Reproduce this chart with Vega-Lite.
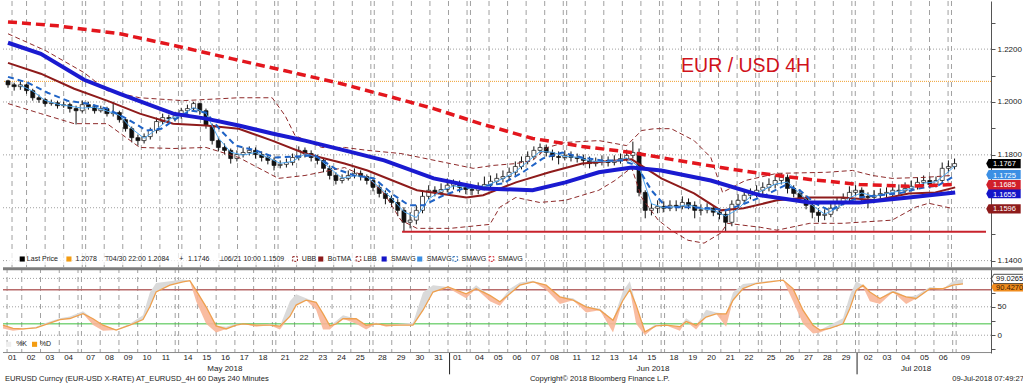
{
"$schema": "https://vega.github.io/schema/vega-lite/v6.json",
"padding": 0,
"background": "white",
"spacing": 0,
"bounds": "flush",
"config": {
 "view": {"stroke": null},
 "text": {"font": "Liberation Sans", "fontSize": 8, "color": "#1a1a1a"},
 "axis": {"labelFont": "Liberation Sans", "labelFontSize": 8, "labelColor": "#1a1a1a", "domainColor": "#555555", "tickColor": "#555555", "grid": false, "title": null}
},
"resolve": {"scale": {"y": "independent", "color": "independent"}},
"datasets": {
 "vg": [{"b":1.3},{"b":6},{"b":12},{"b":18},{"b":24},{"b":25.1},{"b":31.1},{"b":37.1},{"b":43.1},{"b":49.1},{"b":55.1},{"b":56.2},{"b":62.2},{"b":68.2},{"b":74.2},{"b":80.2},{"b":86.2},{"b":87.3},{"b":93.3},{"b":99.3},{"b":105.3},{"b":111.3},{"b":117.3},{"b":118.4},{"b":124.4},{"b":130.4},{"b":136.4},{"b":142.4},{"b":148.4},{"b":149.5},{"b":155.5},{"b":161.5},{"b":167.5},{"b":173.5},{"b":179.5},{"b":180.6},{"b":186.6},{"b":192.6},{"b":198.6},{"b":204.6},{"b":210.6},{"b":211.7},{"b":217.7},{"b":223.7},{"b":229.7},{"b":235.7},{"b":241.7},{"b":242.8},{"b":248.8},{"b":254.8},{"b":260.8},{"b":266.8},{"b":272.8},{"b":273.9},{"b":279.9},{"b":285.9},{"b":291.9},{"b":297.9},{"b":303.9},{"b":305}],
 "hg": [{"p":1.14},{"p":1.16},{"p":1.18},{"p":1.20},{"p":1.22}],
 "cd": [
{"b":0,"o":1.2080,"h":1.2084,"l":1.2054,"c":1.2065},
{"b":2,"o":1.2065,"h":1.2073,"l":1.2043,"c":1.2058},
{"b":4,"o":1.2058,"h":1.2077,"l":1.2046,"c":1.2065},
{"b":6,"o":1.2065,"h":1.2069,"l":1.2031,"c":1.2043},
{"b":8,"o":1.2043,"h":1.2050,"l":1.2005,"c":1.2016},
{"b":10,"o":1.2016,"h":1.2028,"l":1.1997,"c":1.2009},
{"b":12,"o":1.2009,"h":1.2016,"l":1.1982,"c":1.1994},
{"b":14,"o":1.1994,"h":1.2009,"l":1.1986,"c":1.1997},
{"b":16,"o":1.1997,"h":1.2005,"l":1.1975,"c":1.1986},
{"b":18,"o":1.1986,"h":1.2001,"l":1.1978,"c":1.1990},
{"b":20,"o":1.1990,"h":1.1997,"l":1.1960,"c":1.1975},
{"b":22,"o":1.1975,"h":1.1986,"l":1.1915,"c":1.1967},
{"b":24,"o":1.1967,"h":1.2005,"l":1.1960,"c":1.1990},
{"b":26,"o":1.1990,"h":1.2001,"l":1.1971,"c":1.1982},
{"b":28,"o":1.1982,"h":1.1990,"l":1.1956,"c":1.1967},
{"b":30,"o":1.1967,"h":1.1986,"l":1.1960,"c":1.1975},
{"b":32,"o":1.1975,"h":1.1982,"l":1.1945,"c":1.1956},
{"b":34,"o":1.1956,"h":1.2001,"l":1.1945,"c":1.1960},
{"b":36,"o":1.1960,"h":1.1967,"l":1.1922,"c":1.1933},
{"b":38,"o":1.1933,"h":1.1941,"l":1.1888,"c":1.1899},
{"b":40,"o":1.1899,"h":1.1907,"l":1.1847,"c":1.1865},
{"b":42,"o":1.1865,"h":1.1877,"l":1.1835,"c":1.1854},
{"b":44,"o":1.1854,"h":1.1881,"l":1.1843,"c":1.1869},
{"b":46,"o":1.1869,"h":1.1903,"l":1.1858,"c":1.1892},
{"b":48,"o":1.1892,"h":1.1941,"l":1.1881,"c":1.1926},
{"b":50,"o":1.1926,"h":1.1956,"l":1.1915,"c":1.1941},
{"b":52,"o":1.1941,"h":1.1952,"l":1.1922,"c":1.1937},
{"b":54,"o":1.1937,"h":1.1963,"l":1.1926,"c":1.1948},
{"b":56,"o":1.1948,"h":1.1978,"l":1.1937,"c":1.1967},
{"b":58,"o":1.1967,"h":1.1990,"l":1.1956,"c":1.1975},
{"b":60,"o":1.1975,"h":1.2001,"l":1.1963,"c":1.1994},
{"b":62,"o":1.1994,"h":1.1997,"l":1.1952,"c":1.1967},
{"b":64,"o":1.1967,"h":1.1975,"l":1.1899,"c":1.1911},
{"b":66,"o":1.1911,"h":1.1918,"l":1.1839,"c":1.1854},
{"b":68,"o":1.1854,"h":1.1865,"l":1.1813,"c":1.1828},
{"b":70,"o":1.1828,"h":1.1843,"l":1.1801,"c":1.1817},
{"b":72,"o":1.1817,"h":1.1824,"l":1.1767,"c":1.1786},
{"b":74,"o":1.1786,"h":1.1817,"l":1.1775,"c":1.1801},
{"b":76,"o":1.1801,"h":1.1828,"l":1.1790,"c":1.1809},
{"b":78,"o":1.1809,"h":1.1832,"l":1.1798,"c":1.1817},
{"b":80,"o":1.1817,"h":1.1828,"l":1.1786,"c":1.1801},
{"b":82,"o":1.1801,"h":1.1813,"l":1.1775,"c":1.1790},
{"b":84,"o":1.1790,"h":1.1801,"l":1.1764,"c":1.1779},
{"b":86,"o":1.1779,"h":1.1790,"l":1.1741,"c":1.1760},
{"b":88,"o":1.1760,"h":1.1779,"l":1.1749,"c":1.1764},
{"b":90,"o":1.1764,"h":1.1786,"l":1.1752,"c":1.1771},
{"b":92,"o":1.1771,"h":1.1805,"l":1.1760,"c":1.1790},
{"b":94,"o":1.1790,"h":1.1832,"l":1.1779,"c":1.1817},
{"b":96,"o":1.1817,"h":1.1828,"l":1.1790,"c":1.1805},
{"b":98,"o":1.1805,"h":1.1817,"l":1.1775,"c":1.1790},
{"b":100,"o":1.1790,"h":1.1801,"l":1.1764,"c":1.1779},
{"b":102,"o":1.1779,"h":1.1786,"l":1.1734,"c":1.1749},
{"b":104,"o":1.1749,"h":1.1760,"l":1.1707,"c":1.1722},
{"b":106,"o":1.1722,"h":1.1734,"l":1.1688,"c":1.1703},
{"b":108,"o":1.1703,"h":1.1726,"l":1.1692,"c":1.1711},
{"b":110,"o":1.1711,"h":1.1741,"l":1.1703,"c":1.1722},
{"b":112,"o":1.1722,"h":1.1749,"l":1.1711,"c":1.1730},
{"b":114,"o":1.1730,"h":1.1741,"l":1.1703,"c":1.1718},
{"b":116,"o":1.1718,"h":1.1726,"l":1.1688,"c":1.1703},
{"b":118,"o":1.1703,"h":1.1715,"l":1.1662,"c":1.1677},
{"b":120,"o":1.1677,"h":1.1688,"l":1.1639,"c":1.1654},
{"b":122,"o":1.1654,"h":1.1666,"l":1.1613,"c":1.1635},
{"b":124,"o":1.1635,"h":1.1647,"l":1.1602,"c":1.1620},
{"b":126,"o":1.1620,"h":1.1632,"l":1.1568,"c":1.1590},
{"b":128,"o":1.1590,"h":1.1602,"l":1.1511,"c":1.1545},
{"b":130,"o":1.1545,"h":1.1583,"l":1.1522,"c":1.1553},
{"b":132,"o":1.1553,"h":1.1609,"l":1.1537,"c":1.1590},
{"b":134,"o":1.1590,"h":1.1666,"l":1.1579,"c":1.1643},
{"b":136,"o":1.1643,"h":1.1685,"l":1.1632,"c":1.1666},
{"b":138,"o":1.1666,"h":1.1681,"l":1.1643,"c":1.1658},
{"b":140,"o":1.1658,"h":1.1692,"l":1.1647,"c":1.1669},
{"b":142,"o":1.1669,"h":1.1711,"l":1.1658,"c":1.1685},
{"b":144,"o":1.1685,"h":1.1707,"l":1.1669,"c":1.1692},
{"b":146,"o":1.1692,"h":1.1703,"l":1.1658,"c":1.1677},
{"b":148,"o":1.1677,"h":1.1692,"l":1.1651,"c":1.1669},
{"b":150,"o":1.1669,"h":1.1685,"l":1.1647,"c":1.1666},
{"b":152,"o":1.1666,"h":1.1696,"l":1.1651,"c":1.1681},
{"b":154,"o":1.1681,"h":1.1718,"l":1.1666,"c":1.1688},
{"b":156,"o":1.1688,"h":1.1722,"l":1.1677,"c":1.1700},
{"b":158,"o":1.1700,"h":1.1730,"l":1.1688,"c":1.1711},
{"b":160,"o":1.1711,"h":1.1741,"l":1.1696,"c":1.1718},
{"b":162,"o":1.1718,"h":1.1752,"l":1.1703,"c":1.1734},
{"b":164,"o":1.1734,"h":1.1775,"l":1.1722,"c":1.1756},
{"b":166,"o":1.1756,"h":1.1794,"l":1.1745,"c":1.1775},
{"b":168,"o":1.1775,"h":1.1813,"l":1.1764,"c":1.1794},
{"b":170,"o":1.1794,"h":1.1832,"l":1.1783,"c":1.1817},
{"b":172,"o":1.1817,"h":1.1843,"l":1.1805,"c":1.1828},
{"b":174,"o":1.1828,"h":1.1839,"l":1.1794,"c":1.1809},
{"b":176,"o":1.1809,"h":1.1820,"l":1.1779,"c":1.1794},
{"b":178,"o":1.1794,"h":1.1813,"l":1.1764,"c":1.1790},
{"b":180,"o":1.1790,"h":1.1817,"l":1.1779,"c":1.1798},
{"b":182,"o":1.1798,"h":1.1813,"l":1.1775,"c":1.1790},
{"b":184,"o":1.1790,"h":1.1805,"l":1.1771,"c":1.1786},
{"b":186,"o":1.1786,"h":1.1801,"l":1.1760,"c":1.1779},
{"b":188,"o":1.1779,"h":1.1794,"l":1.1749,"c":1.1767},
{"b":190,"o":1.1767,"h":1.1790,"l":1.1756,"c":1.1775},
{"b":192,"o":1.1775,"h":1.1798,"l":1.1760,"c":1.1779},
{"b":194,"o":1.1779,"h":1.1794,"l":1.1756,"c":1.1771},
{"b":196,"o":1.1771,"h":1.1798,"l":1.1760,"c":1.1779},
{"b":198,"o":1.1779,"h":1.1805,"l":1.1767,"c":1.1786},
{"b":200,"o":1.1786,"h":1.1820,"l":1.1775,"c":1.1798},
{"b":202,"o":1.1798,"h":1.1850,"l":1.1786,"c":1.1809},
{"b":204,"o":1.1809,"h":1.1824,"l":1.1643,"c":1.1658},
{"b":206,"o":1.1658,"h":1.1666,"l":1.1560,"c":1.1590},
{"b":208,"o":1.1590,"h":1.1617,"l":1.1571,"c":1.1598},
{"b":210,"o":1.1598,"h":1.1628,"l":1.1579,"c":1.1605},
{"b":212,"o":1.1605,"h":1.1624,"l":1.1583,"c":1.1598},
{"b":214,"o":1.1598,"h":1.1628,"l":1.1587,"c":1.1609},
{"b":216,"o":1.1609,"h":1.1628,"l":1.1587,"c":1.1605},
{"b":218,"o":1.1605,"h":1.1643,"l":1.1594,"c":1.1620},
{"b":220,"o":1.1620,"h":1.1635,"l":1.1594,"c":1.1609},
{"b":222,"o":1.1609,"h":1.1624,"l":1.1560,"c":1.1590},
{"b":224,"o":1.1590,"h":1.1613,"l":1.1571,"c":1.1592},
{"b":226,"o":1.1592,"h":1.1617,"l":1.1579,"c":1.1598},
{"b":228,"o":1.1598,"h":1.1609,"l":1.1568,"c":1.1583},
{"b":230,"o":1.1583,"h":1.1598,"l":1.1556,"c":1.1575},
{"b":232,"o":1.1575,"h":1.1587,"l":1.1509,"c":1.1545},
{"b":234,"o":1.1545,"h":1.1628,"l":1.1530,"c":1.1613},
{"b":236,"o":1.1613,"h":1.1651,"l":1.1598,"c":1.1628},
{"b":238,"o":1.1628,"h":1.1666,"l":1.1617,"c":1.1647},
{"b":240,"o":1.1647,"h":1.1673,"l":1.1632,"c":1.1654},
{"b":242,"o":1.1654,"h":1.1685,"l":1.1639,"c":1.1666},
{"b":244,"o":1.1666,"h":1.1696,"l":1.1651,"c":1.1677},
{"b":246,"o":1.1677,"h":1.1711,"l":1.1662,"c":1.1688},
{"b":248,"o":1.1688,"h":1.1722,"l":1.1673,"c":1.1703},
{"b":250,"o":1.1703,"h":1.1730,"l":1.1688,"c":1.1715},
{"b":252,"o":1.1715,"h":1.1726,"l":1.1654,"c":1.1673},
{"b":254,"o":1.1673,"h":1.1685,"l":1.1639,"c":1.1654},
{"b":256,"o":1.1654,"h":1.1669,"l":1.1620,"c":1.1635},
{"b":258,"o":1.1635,"h":1.1647,"l":1.1594,"c":1.1609},
{"b":260,"o":1.1609,"h":1.1620,"l":1.1560,"c":1.1583},
{"b":262,"o":1.1583,"h":1.1598,"l":1.1545,"c":1.1571},
{"b":264,"o":1.1571,"h":1.1594,"l":1.1553,"c":1.1575},
{"b":266,"o":1.1575,"h":1.1617,"l":1.1564,"c":1.1598},
{"b":268,"o":1.1598,"h":1.1639,"l":1.1587,"c":1.1620},
{"b":270,"o":1.1620,"h":1.1654,"l":1.1609,"c":1.1635},
{"b":272,"o":1.1635,"h":1.1681,"l":1.1624,"c":1.1658},
{"b":274,"o":1.1658,"h":1.1685,"l":1.1643,"c":1.1666},
{"b":276,"o":1.1666,"h":1.1677,"l":1.1624,"c":1.1643},
{"b":278,"o":1.1643,"h":1.1658,"l":1.1598,"c":1.1639},
{"b":280,"o":1.1639,"h":1.1666,"l":1.1628,"c":1.1647},
{"b":282,"o":1.1647,"h":1.1673,"l":1.1635,"c":1.1654},
{"b":284,"o":1.1654,"h":1.1677,"l":1.1639,"c":1.1658},
{"b":286,"o":1.1658,"h":1.1685,"l":1.1643,"c":1.1666},
{"b":288,"o":1.1666,"h":1.1688,"l":1.1647,"c":1.1664},
{"b":290,"o":1.1664,"h":1.1696,"l":1.1654,"c":1.1673},
{"b":292,"o":1.1673,"h":1.1703,"l":1.1662,"c":1.1681},
{"b":294,"o":1.1681,"h":1.1715,"l":1.1669,"c":1.1696},
{"b":296,"o":1.1696,"h":1.1722,"l":1.1681,"c":1.1703},
{"b":298,"o":1.1703,"h":1.1718,"l":1.1673,"c":1.1688},
{"b":300,"o":1.1688,"h":1.1718,"l":1.1677,"c":1.1703},
{"b":302,"o":1.1703,"h":1.1771,"l":1.1692,"c":1.1749},
{"b":304,"o":1.1749,"h":1.1779,"l":1.1734,"c":1.1756},
{"b":306,"o":1.1756,"h":1.1786,"l":1.1745,"c":1.1767}
 ],
 "rd": [{"b":0,"v":1.2303},{"b":16,"v":1.2288},{"b":36.2,"v":1.2258},{"b":54.4,"v":1.2212},{"b":72.6,"v":1.2163},{"b":89.6,"v":1.2118},{"b":107.8,"v":1.2069},{"b":124.8,"v":1.2016},{"b":137.6,"v":1.1975},{"b":153.6,"v":1.1915},{"b":169.6,"v":1.1862},{"b":185.6,"v":1.1832},{"b":201.6,"v":1.1809},{"b":214.4,"v":1.1783},{"b":230.4,"v":1.1752},{"b":243.2,"v":1.1730},{"b":259.2,"v":1.1707},{"b":275.2,"v":1.1688},{"b":291.2,"v":1.1681},{"b":306.2,"v":1.1688}],
 "bt": [{"b":0,"v":1.2224},{"b":10.6,"v":1.2182},{"b":24.6,"v":1.2084},{"b":36.2,"v":1.2031},{"b":53.4,"v":1.1956},{"b":64,"v":1.1937},{"b":74.6,"v":1.1911},{"b":85.4,"v":1.1881},{"b":96,"v":1.1854},{"b":108.8,"v":1.1817},{"b":121.6,"v":1.1779},{"b":137.6,"v":1.1711},{"b":153.6,"v":1.1673},{"b":169.6,"v":1.1666},{"b":180.2,"v":1.1696},{"b":191,"v":1.1734},{"b":201.6,"v":1.1752},{"b":211.2,"v":1.1741},{"b":227.2,"v":1.1703},{"b":243.2,"v":1.1647},{"b":259.2,"v":1.1620},{"b":275.2,"v":1.1620},{"b":291.2,"v":1.1639},{"b":306.2,"v":1.1658}],
 "tm": [{"b":0,"v":1.2148},{"b":10.6,"v":1.2107},{"b":21.4,"v":1.2050},{"b":32,"v":1.2005},{"b":42.6,"v":1.1956},{"b":53.4,"v":1.1918},{"b":64,"v":1.1911},{"b":74.6,"v":1.1899},{"b":85.4,"v":1.1854},{"b":96,"v":1.1805},{"b":108.8,"v":1.1767},{"b":116.2,"v":1.1741},{"b":132.2,"v":1.1666},{"b":148.2,"v":1.1639},{"b":153.6,"v":1.1647},{"b":164.2,"v":1.1696},{"b":175,"v":1.1734},{"b":185.6,"v":1.1767},{"b":201.6,"v":1.1783},{"b":211.2,"v":1.1711},{"b":221.8,"v":1.1654},{"b":230.4,"v":1.1590},{"b":237.8,"v":1.1598},{"b":248.6,"v":1.1628},{"b":259.2,"v":1.1639},{"b":269.8,"v":1.1639},{"b":280.6,"v":1.1628},{"b":291.2,"v":1.1654},{"b":299.8,"v":1.1658},{"b":306.2,"v":1.1677}],
 "bb": [
{"s":"u","b":0,"v":1.2258},{"s":"u","b":12.2,"v":1.2194},{"s":"u","b":24.6,"v":1.2111},{"s":"u","b":32,"v":1.2043},{"s":"u","b":42.6,"v":1.2016},{"s":"u","b":56.6,"v":1.2005},{"s":"u","b":74.6,"v":1.2016},{"s":"u","b":85.4,"v":1.2016},{"s":"u","b":89.6,"v":1.1948},{"s":"u","b":92.8,"v":1.1873},{"s":"u","b":101.4,"v":1.1828},{"s":"u","b":108.8,"v":1.1828},{"s":"u","b":116.2,"v":1.1817},{"s":"u","b":127,"v":1.1805},{"s":"u","b":143,"v":1.1767},{"s":"u","b":150.4,"v":1.1749},{"s":"u","b":156.8,"v":1.1760},{"s":"u","b":164.2,"v":1.1767},{"s":"u","b":169.6,"v":1.1779},{"s":"u","b":174.4,"v":1.1828},{"s":"u","b":180.2,"v":1.1847},{"s":"u","b":191,"v":1.1854},{"s":"u","b":200,"v":1.1835},{"s":"u","b":204.8,"v":1.1892},{"s":"u","b":209,"v":1.1899},{"s":"u","b":214.4,"v":1.1899},{"s":"u","b":221.8,"v":1.1854},{"s":"u","b":227.2,"v":1.1790},{"s":"u","b":231,"v":1.1658},{"s":"u","b":235.2,"v":1.1684},{"s":"u","b":238.4,"v":1.1703},{"s":"u","b":248.6,"v":1.1730},{"s":"u","b":264.6,"v":1.1734},{"s":"u","b":273,"v":1.1741},{"s":"u","b":279.4,"v":1.1722},{"s":"u","b":285.8,"v":1.1711},{"s":"u","b":296.6,"v":1.1715},{"s":"u","b":305,"v":1.1722},
{"s":"l","b":0,"v":1.1994},{"s":"l","b":10.6,"v":1.1956},{"s":"l","b":21.4,"v":1.1918},{"s":"l","b":32,"v":1.1918},{"s":"l","b":42.6,"v":1.1828},{"s":"l","b":53.4,"v":1.1824},{"s":"l","b":64,"v":1.1828},{"s":"l","b":74.6,"v":1.1790},{"s":"l","b":87.4,"v":1.1711},{"s":"l","b":96,"v":1.1722},{"s":"l","b":108.8,"v":1.1752},{"s":"l","b":116.2,"v":1.1715},{"s":"l","b":121.6,"v":1.1654},{"s":"l","b":127,"v":1.1553},{"s":"l","b":132.2,"v":1.1522},{"s":"l","b":143,"v":1.1522},{"s":"l","b":155.8,"v":1.1537},{"s":"l","b":159,"v":1.1602},{"s":"l","b":164.2,"v":1.1639},{"s":"l","b":171.8,"v":1.1620},{"s":"l","b":180.2,"v":1.1628},{"s":"l","b":191,"v":1.1666},{"s":"l","b":196.2,"v":1.1703},{"s":"l","b":201.6,"v":1.1752},{"s":"l","b":204.8,"v":1.1639},{"s":"l","b":210.2,"v":1.1553},{"s":"l","b":214.4,"v":1.1515},{"s":"l","b":219.8,"v":1.1477},{"s":"l","b":225,"v":1.1466},{"s":"l","b":230.4,"v":1.1504},{"s":"l","b":232.6,"v":1.1541},{"s":"l","b":243.2,"v":1.1526},{"s":"l","b":248.6,"v":1.1515},{"s":"l","b":259.2,"v":1.1541},{"s":"l","b":269.8,"v":1.1541},{"s":"l","b":285.8,"v":1.1553},{"s":"l","b":293.4,"v":1.1602},{"s":"l","b":297.6,"v":1.1617},{"s":"l","b":305,"v":1.1598}
 ],
 "bd": [{"b":0,"v":1.2095},{"b":6.4,"v":1.2073},{"b":12.8,"v":1.2035},{"b":19.2,"v":1.2005},{"b":25.6,"v":1.1994},{"b":32,"v":1.1975},{"b":38.4,"v":1.1937},{"b":44.8,"v":1.1892},{"b":49.6,"v":1.1899},{"b":54.4,"v":1.1937},{"b":59.2,"v":1.1967},{"b":64,"v":1.1960},{"b":68.8,"v":1.1892},{"b":73.6,"v":1.1835},{"b":80,"v":1.1817},{"b":86.4,"v":1.1790},{"b":92.8,"v":1.1794},{"b":99.2,"v":1.1798},{"b":105.6,"v":1.1749},{"b":112,"v":1.1722},{"b":118.4,"v":1.1711},{"b":124.8,"v":1.1647},{"b":129.6,"v":1.1609},{"b":134.4,"v":1.1609},{"b":140.8,"v":1.1647},{"b":147.2,"v":1.1673},{"b":153.6,"v":1.1681},{"b":160,"v":1.1692},{"b":166.4,"v":1.1734},{"b":172.8,"v":1.1786},{"b":179.2,"v":1.1809},{"b":185.6,"v":1.1790},{"b":192,"v":1.1779},{"b":198.4,"v":1.1779},{"b":203.2,"v":1.1760},{"b":208,"v":1.1666},{"b":212.8,"v":1.1602},{"b":220.8,"v":1.1602},{"b":227.2,"v":1.1598},{"b":232,"v":1.1590},{"b":238.4,"v":1.1617},{"b":244.8,"v":1.1647},{"b":251.2,"v":1.1685},{"b":256,"v":1.1666},{"b":260.8,"v":1.1617},{"b":265.6,"v":1.1590},{"b":270.4,"v":1.1617},{"b":275.2,"v":1.1639},{"b":281.6,"v":1.1647},{"b":288,"v":1.1654},{"b":294.4,"v":1.1673},{"b":300.8,"v":1.1685},{"b":306.2,"v":1.1722}],
 "lb": [{"b":4,"v":1.2063},{"b":8,"v":1.2041},{"b":12,"v":1.2006},{"b":16,"v":1.1992},{"b":20,"v":1.1984},{"b":24,"v":1.1977},{"b":28,"v":1.1980},{"b":32,"v":1.1966},{"b":36,"v":1.1950},{"b":40,"v":1.1899},{"b":44,"v":1.1863},{"b":48,"v":1.1896},{"b":52,"v":1.1935},{"b":56,"v":1.1951},{"b":60,"v":1.1979},{"b":64,"v":1.1957},{"b":68,"v":1.1864},{"b":72,"v":1.1810},{"b":76,"v":1.1799},{"b":80,"v":1.1809},{"b":84,"v":1.1790},{"b":88,"v":1.1768},{"b":92,"v":1.1775},{"b":96,"v":1.1804},{"b":100,"v":1.1791},{"b":104,"v":1.1750},{"b":108,"v":1.1712},{"b":112,"v":1.1721},{"b":116,"v":1.1717},{"b":120,"v":1.1678},{"b":124,"v":1.1636},{"b":128,"v":1.1585},{"b":132,"v":1.1563},{"b":136,"v":1.1633},{"b":140,"v":1.1664},{"b":144,"v":1.1682},{"b":148,"v":1.1679},{"b":152,"v":1.1672},{"b":156,"v":1.1690},{"b":160,"v":1.1710},{"b":164,"v":1.1736},{"b":168,"v":1.1775},{"b":172,"v":1.1813},{"b":176,"v":1.1810},{"b":180,"v":1.1794},{"b":184,"v":1.1791},{"b":188,"v":1.1777},{"b":192,"v":1.1774},{"b":196,"v":1.1776},{"b":200,"v":1.1788},{"b":204,"v":1.1755},{"b":208,"v":1.1615},{"b":212,"v":1.1600},{"b":216,"v":1.1604},{"b":220,"v":1.1611},{"b":224,"v":1.1597},{"b":228,"v":1.1591},{"b":232,"v":1.1568},{"b":236,"v":1.1595},{"b":240,"v":1.1643},{"b":244,"v":1.1666},{"b":248,"v":1.1689},{"b":252,"v":1.1697},{"b":256,"v":1.1654},{"b":260,"v":1.1609},{"b":264,"v":1.1576},{"b":268,"v":1.1598},{"b":272,"v":1.1638},{"b":276,"v":1.1656},{"b":280,"v":1.1643},{"b":284,"v":1.1653},{"b":288,"v":1.1663},{"b":292,"v":1.1673},{"b":296,"v":1.1693},{"b":300,"v":1.1698},{"b":304,"v":1.1736},{"b":306,"v":1.1757}],
 "os": [
{"b":0,"d":17.6,"ku":17.6,"kd":12},{"b":3.2,"d":12,"ku":12,"kd":8},{"b":6.4,"d":11,"ku":11,"kd":10},{"b":10.6,"d":13,"ku":15,"kd":13},{"b":13.8,"d":19,"ku":22,"kd":19},{"b":18.2,"d":27.6,"ku":30,"kd":27.6},{"b":21.4,"d":29.4,"ku":33,"kd":29.4},{"b":25.6,"d":38,"ku":42,"kd":38},{"b":28.8,"d":29,"ku":29,"kd":18},{"b":32,"d":17.6,"ku":17.6,"kd":8},{"b":36.2,"d":9,"ku":10,"kd":9},{"b":40.6,"d":17.6,"ku":20,"kd":17.6},{"b":44.8,"d":27.6,"ku":35,"kd":27.6},{"b":47,"d":50,"ku":75,"kd":50},{"b":49,"d":76,"ku":92,"kd":76},{"b":53.4,"d":88,"ku":95,"kd":88},{"b":57.6,"d":94,"ku":98,"kd":94},{"b":59.8,"d":96,"ku":96,"kd":95},{"b":61.8,"d":79,"ku":79,"kd":60},{"b":65,"d":50,"ku":50,"kd":20},{"b":68.2,"d":16.5,"ku":16.5,"kd":5},{"b":71.4,"d":11,"ku":15,"kd":11},{"b":74.6,"d":17.6,"ku":20,"kd":17.6},{"b":76.8,"d":20,"ku":20,"kd":20},{"b":81,"d":17.6,"ku":17.6,"kd":15},{"b":85.4,"d":17.6,"ku":20,"kd":17.6},{"b":88.6,"d":16,"ku":16,"kd":10},{"b":91.8,"d":33,"ku":60,"kd":33},{"b":93.8,"d":53,"ku":72,"kd":53},{"b":97,"d":61.6,"ku":65,"kd":61.6},{"b":100.2,"d":58,"ku":58,"kd":45},{"b":102.4,"d":38,"ku":38,"kd":10},{"b":104.6,"d":16.5,"ku":16.5,"kd":10},{"b":106.6,"d":20,"ku":25,"kd":20},{"b":108.8,"d":29,"ku":35,"kd":29},{"b":113,"d":29,"ku":29,"kd":20},{"b":116.2,"d":17.6,"ku":17.6,"kd":10},{"b":119.4,"d":20,"ku":22,"kd":20},{"b":122.6,"d":17.6,"ku":17.6,"kd":15},{"b":127,"d":17.6,"ku":20,"kd":17.6},{"b":131.2,"d":17.6,"ku":22,"kd":17.6},{"b":134.4,"d":44,"ku":75,"kd":44},{"b":137.6,"d":76,"ku":88,"kd":76},{"b":142.4,"d":85,"ku":85,"kd":83},{"b":148.2,"d":73,"ku":73,"kd":65},{"b":151.4,"d":82,"ku":88,"kd":82},{"b":155.8,"d":70,"ku":70,"kd":60},{"b":159,"d":59,"ku":59,"kd":52},{"b":162.2,"d":73,"ku":82,"kd":73},{"b":165.4,"d":88,"ku":93,"kd":88},{"b":169.6,"d":94,"ku":96,"kd":94},{"b":173.8,"d":88,"ku":88,"kd":80},{"b":178.2,"d":67.6,"ku":67.6,"kd":55},{"b":182.4,"d":61.6,"ku":65,"kd":61.6},{"b":186.6,"d":50,"ku":50,"kd":40},{"b":191,"d":44,"ku":47,"kd":44},{"b":195.2,"d":26.5,"ku":26.5,"kd":5},{"b":198.4,"d":61.6,"ku":78,"kd":61.6},{"b":200.6,"d":80,"ku":95,"kd":80},{"b":202.6,"d":53,"ku":53,"kd":20},{"b":205.4,"d":6,"ku":6,"kd":0},{"b":209,"d":16.5,"ku":20,"kd":16.5},{"b":212.2,"d":17.6,"ku":17.6,"kd":17},{"b":216.6,"d":15,"ku":15,"kd":8},{"b":218.6,"d":24,"ku":30,"kd":24},{"b":221.8,"d":17.6,"ku":17.6,"kd":10},{"b":225,"d":32,"ku":45,"kd":32},{"b":228.2,"d":37.7,"ku":40,"kd":37.7},{"b":231.4,"d":37.7,"ku":37.7,"kd":15},{"b":233.6,"d":61.6,"ku":75,"kd":61.6},{"b":236.8,"d":82,"ku":90,"kd":82},{"b":241,"d":91,"ku":93,"kd":91},{"b":245.4,"d":94,"ku":96,"kd":94},{"b":249.6,"d":97,"ku":97,"kd":97},{"b":252.8,"d":82,"ku":82,"kd":60},{"b":256,"d":44,"ku":44,"kd":20},{"b":259.2,"d":17.6,"ku":17.6,"kd":3},{"b":261.4,"d":9,"ku":9,"kd":5},{"b":264.6,"d":12,"ku":18,"kd":12},{"b":268.8,"d":20,"ku":30,"kd":20},{"b":271,"d":47,"ku":70,"kd":47},{"b":273,"d":79,"ku":95,"kd":79},{"b":275.2,"d":88,"ku":88,"kd":85},{"b":277.4,"d":76,"ku":76,"kd":60},{"b":280.6,"d":64.6,"ku":64.6,"kd":55},{"b":284.8,"d":76,"ku":80,"kd":76},{"b":289,"d":67.6,"ku":67.6,"kd":55},{"b":292.2,"d":64.6,"ku":70,"kd":64.6},{"b":296.6,"d":82,"ku":85,"kd":82},{"b":300.8,"d":82,"ku":82,"kd":80},{"b":304,"d":88,"ku":95,"kd":88},{"b":307.2,"d":90.4,"ku":99,"kd":90.4}
 ],
 "pb": [{"v":1.1725,"t":"1.1725","i":"sma2","z":0},{"v":1.1653,"t":"1.1655","i":"sma1","z":0},{"v":1.1767,"t":"1.1767","i":"lp","z":1},{"v":1.1687,"t":"1.1685","i":"sma4","z":1},{"v":1.1596,"t":"1.1596","i":"lbb","z":1}],
 "lt": [{"b":6.1,"t":"Last Price"},{"b":21.8,"t":"1.2078"},{"b":31,"t":"⊤"},{"b":32.6,"t":"04/30 22:00 1.2084"},{"b":55.4,"t":"+"},{"b":58.2,"t":"1.1746"},{"b":68.2,"t":"⊥"},{"b":69.8,"t":"06/21 10:00 1.1509"},{"b":95,"t":"UBB"},{"b":103.4,"t":"BoTMA"},{"b":114.9,"t":"LBB"},{"b":123.8,"t":"SMAVG"},{"b":135.4,"t":"SMAVG"},{"b":146.6,"t":"SMAVG"},{"b":158.4,"t":"SMAVG"}],
 "ls": [{"b":4.6,"i":"lp"},{"b":19.7,"i":"first"},{"b":101.1,"i":"botma"},{"b":121.6,"i":"sma1"},{"b":133.1,"i":"sma2"}],
 "ld": [{"b":92.8,"i":"ubb"},{"b":113.3,"i":"lbb"},{"b":144.6,"i":"sma3"},{"b":156.3,"i":"sma4"}],
 "dl": [{"b":3,"t":"01"},{"b":9,"t":"02"},{"b":15,"t":"03"},{"b":21,"t":"04"},{"b":28.1,"t":"07"},{"b":34.1,"t":"08"},{"b":40.1,"t":"09"},{"b":46.1,"t":"10"},{"b":52.1,"t":"11"},{"b":59.2,"t":"14"},{"b":65.2,"t":"15"},{"b":71.2,"t":"16"},{"b":77.2,"t":"17"},{"b":83.2,"t":"18"},{"b":90.3,"t":"21"},{"b":96.3,"t":"22"},{"b":102.3,"t":"23"},{"b":108.3,"t":"24"},{"b":114.3,"t":"25"},{"b":121.4,"t":"28"},{"b":127.4,"t":"29"},{"b":133.4,"t":"30"},{"b":139.4,"t":"31"},{"b":145.4,"t":"01"},{"b":152.5,"t":"04"},{"b":158.5,"t":"05"},{"b":164.5,"t":"06"},{"b":170.5,"t":"07"},{"b":176.5,"t":"08"},{"b":183.6,"t":"11"},{"b":189.6,"t":"12"},{"b":195.6,"t":"13"},{"b":201.6,"t":"14"},{"b":207.6,"t":"15"},{"b":214.7,"t":"18"},{"b":220.7,"t":"19"},{"b":226.7,"t":"20"},{"b":232.7,"t":"21"},{"b":238.7,"t":"22"},{"b":245.8,"t":"25"},{"b":251.8,"t":"26"},{"b":257.8,"t":"27"},{"b":263.8,"t":"28"},{"b":269.8,"t":"29"},{"b":276.9,"t":"02"},{"b":282.9,"t":"03"},{"b":288.9,"t":"04"},{"b":294.9,"t":"05"},{"b":300.9,"t":"06"},{"b":308,"t":"09"}],
 "ml": [{"b":71,"t":"May 2018"},{"b":208,"t":"Jun 2018"},{"b":292.2,"t":"Jul 2018"}],
 "ms": [{"b":142.9},{"b":273.3}]
},
"vconcat": [
{
 "width": 988, "height": 267,
 "resolve": {"axis": {"y": "independent"}},
 "layer": [
  {"data": {"name": "vg"}, "mark": {"type": "rule", "color": "#a0a0a0", "strokeWidth": 1, "strokeDash": [5, 4]},
   "encoding": {"x": {"field": "b", "type": "quantitative", "scale": {"domain": [0, 316.16], "nice": false, "zero": false}, "axis": null}}},
  {"data": {"name": "hg"}, "mark": {"type": "rule", "color": "#a0a0a0", "strokeWidth": 1, "strokeDash": [1, 2]},
   "encoding": {"y": {"field": "p", "type": "quantitative", "scale": {"domain": [1.1372, 1.2382], "nice": false, "zero": false},
     "axis": {"orient": "right", "values": [1.14, 1.15, 1.16, 1.17, 1.18, 1.19, 1.2, 1.21, 1.22, 1.23], "labelExpr": "abs(datum.value*50-round(datum.value*50))<0.01 && abs(datum.value-1.16)>0.001 ? format(datum.value,'.4f') : ''", "tickSize": 4, "labelPadding": 2, "domain": true}}}},
  {"data": {"values": [{"p": 1.2078}]}, "mark": {"type": "rule", "color": "#f0a030", "strokeWidth": 1, "strokeDash": [1, 1]},
   "encoding": {"y": {"field": "p", "type": "quantitative", "scale": {"domain": [1.1372, 1.2382], "nice": false, "zero": false}, "axis": null}}},
  {"data": {"name": "cd"}, "mark": {"type": "rule", "color": "#111111", "strokeWidth": 1},
   "encoding": {"x": {"field": "b", "type": "quantitative", "scale": {"domain": [0, 316.16], "nice": false, "zero": false}, "axis": null},
     "y": {"field": "l", "type": "quantitative", "scale": {"domain": [1.1372, 1.2382], "nice": false, "zero": false}, "axis": null},
     "y2": {"field": "h"}}},
  {"data": {"name": "cd"}, "mark": {"type": "bar", "size": 4, "stroke": "#111111", "strokeWidth": 0.7},
   "encoding": {"x": {"field": "b", "type": "quantitative", "scale": {"domain": [0, 316.16], "nice": false, "zero": false}, "axis": null},
     "y": {"field": "o", "type": "quantitative", "scale": {"domain": [1.1372, 1.2382], "nice": false, "zero": false}, "axis": null},
     "y2": {"field": "c"},
     "fill": {"condition": {"test": "datum.c >= datum.o", "value": "#ffffff"}, "value": "#111111"}}},
  {"data": {"name": "bb"}, "mark": {"type": "line", "color": "#8e2a2a", "strokeWidth": 1, "strokeDash": [5, 3]},
   "encoding": {"x": {"field": "b", "type": "quantitative", "scale": {"domain": [0, 316.16], "nice": false, "zero": false}, "axis": null},
     "y": {"field": "v", "type": "quantitative", "scale": {"domain": [1.1372, 1.2382], "nice": false, "zero": false}, "axis": null},
     "detail": {"field": "s"}}},
  {"data": {"name": "tm"}, "mark": {"type": "line", "color": "#8e1b1b", "strokeWidth": 2},
   "encoding": {"x": {"field": "b", "type": "quantitative", "scale": {"domain": [0, 316.16], "nice": false, "zero": false}, "axis": null},
     "y": {"field": "v", "type": "quantitative", "scale": {"domain": [1.1372, 1.2382], "nice": false, "zero": false}, "axis": null}}},
  {"data": {"name": "lb"}, "mark": {"type": "line", "color": "#4da6ef", "strokeWidth": 1},
   "encoding": {"x": {"field": "b", "type": "quantitative", "scale": {"domain": [0, 316.16], "nice": false, "zero": false}, "axis": null},
     "y": {"field": "v", "type": "quantitative", "scale": {"domain": [1.1372, 1.2382], "nice": false, "zero": false}, "axis": null}}},
  {"data": {"name": "bd"}, "mark": {"type": "line", "color": "#1f63c6", "strokeWidth": 2, "strokeDash": [6, 4]},
   "encoding": {"x": {"field": "b", "type": "quantitative", "scale": {"domain": [0, 316.16], "nice": false, "zero": false}, "axis": null},
     "y": {"field": "v", "type": "quantitative", "scale": {"domain": [1.1372, 1.2382], "nice": false, "zero": false}, "axis": null}}},
  {"data": {"name": "bt"}, "mark": {"type": "line", "color": "#1a1ad0", "strokeWidth": 4},
   "encoding": {"x": {"field": "b", "type": "quantitative", "scale": {"domain": [0, 316.16], "nice": false, "zero": false}, "axis": null},
     "y": {"field": "v", "type": "quantitative", "scale": {"domain": [1.1372, 1.2382], "nice": false, "zero": false}, "axis": null}}},
  {"data": {"name": "rd"}, "mark": {"type": "line", "color": "#e3161d", "strokeWidth": 3.5, "strokeDash": [9, 5]},
   "encoding": {"x": {"field": "b", "type": "quantitative", "scale": {"domain": [0, 316.16], "nice": false, "zero": false}, "axis": null},
     "y": {"field": "v", "type": "quantitative", "scale": {"domain": [1.1372, 1.2382], "nice": false, "zero": false}, "axis": null}}},
  {"data": {"values": [{"b1": 127.4, "b2": 316.16, "p": 1.1509}]}, "mark": {"type": "rule", "color": "#c8232c", "strokeWidth": 2},
   "encoding": {"x": {"field": "b1", "type": "quantitative", "scale": {"domain": [0, 316.16], "nice": false, "zero": false}, "axis": null},
     "x2": {"field": "b2"},
     "y": {"field": "p", "type": "quantitative", "scale": {"domain": [1.1372, 1.2382], "nice": false, "zero": false}, "axis": null}}},
  {"data": {"values": [{"b": 217.6, "p": 1.2137, "t": "EUR / USD 4H"}]}, "mark": {"type": "text", "align": "left", "baseline": "middle", "fontSize": 19.5, "font": "Liberation Sans Narrow, Liberation Sans", "color": "#d0121b"},
   "encoding": {"x": {"field": "b", "type": "quantitative", "scale": {"domain": [0, 316.16], "nice": false, "zero": false}, "axis": null},
     "y": {"field": "p", "type": "quantitative", "scale": {"domain": [1.1372, 1.2382], "nice": false, "zero": false}, "axis": null},
     "text": {"field": "t"}}},
  {"data": {"values": [{}]}, "mark": {"type": "rect", "color": "#ffffff", "opacity": 0.75},
   "encoding": {"x": {"datum": 0, "type": "quantitative", "scale": {"domain": [0, 316.16], "nice": false, "zero": false}, "axis": null},
     "x2": {"datum": 166.4},
     "y": {"datum": 1.1431, "type": "quantitative", "scale": {"domain": [1.1372, 1.2382], "nice": false, "zero": false}, "axis": null},
     "y2": {"datum": 1.1383}}},
  {"data": {"name": "lt"}, "mark": {"type": "text", "align": "left", "baseline": "middle", "fontSize": 7},
   "encoding": {"x": {"field": "b", "type": "quantitative", "scale": {"domain": [0, 316.16], "nice": false, "zero": false}, "axis": null},
     "y": {"datum": 1.1406, "type": "quantitative", "scale": {"domain": [1.1372, 1.2382], "nice": false, "zero": false}, "axis": null},
     "text": {"field": "t"}}},
  {"data": {"name": "ls"}, "mark": {"type": "point", "shape": "square", "size": 26, "filled": true, "opacity": 1},
   "encoding": {"x": {"field": "b", "type": "quantitative", "scale": {"domain": [0, 316.16], "nice": false, "zero": false}, "axis": null},
     "y": {"datum": 1.1406, "type": "quantitative", "scale": {"domain": [1.1372, 1.2382], "nice": false, "zero": false}, "axis": null},
     "color": {"field": "i", "type": "nominal", "legend": null, "scale": {"domain": ["lp", "first", "botma", "sma1", "sma2", "ubb", "lbb", "sma3", "sma4"], "range": ["#000000", "#f39c12", "#8e1b1b", "#1414c8", "#3b8fe4", "#8e1b1b", "#8e1b1b", "#2a6db5", "#d11f2a"]}}}},
  {"data": {"name": "ld"}, "mark": {"type": "point", "shape": "square", "size": 22, "filled": false, "opacity": 1, "strokeWidth": 1, "strokeDash": [2, 1.5]},
   "encoding": {"x": {"field": "b", "type": "quantitative", "scale": {"domain": [0, 316.16], "nice": false, "zero": false}, "axis": null},
     "y": {"datum": 1.1406, "type": "quantitative", "scale": {"domain": [1.1372, 1.2382], "nice": false, "zero": false}, "axis": null},
     "color": {"field": "i", "type": "nominal", "legend": null, "scale": {"domain": ["lp", "first", "botma", "sma1", "sma2", "ubb", "lbb", "sma3", "sma4"], "range": ["#000000", "#f39c12", "#8e1b1b", "#1414c8", "#3b8fe4", "#8e1b1b", "#8e1b1b", "#2a6db5", "#d11f2a"]}}}},
  {"data": {"name": "pb"}, "transform": [{"filter": "datum.z == 0"}], "mark": {"type": "point", "shape": "M-1,0L-0.86,-0.27L1,-0.27L1,0.27L-0.86,0.27Z", "size": 1190, "filled": true, "opacity": 1, "strokeWidth": 0},
   "encoding": {"x": {"datum": 321.8, "type": "quantitative", "scale": {"domain": [0, 316.16], "nice": false, "zero": false}, "axis": null},
     "y": {"field": "v", "type": "quantitative", "scale": {"domain": [1.1372, 1.2382], "nice": false, "zero": false}, "axis": null},
     "color": {"field": "i", "type": "nominal", "legend": null, "scale": {"domain": ["lp", "first", "botma", "sma1", "sma2", "ubb", "lbb", "sma3", "sma4"], "range": ["#000000", "#f39c12", "#8e1b1b", "#1414c8", "#3b8fe4", "#8e1b1b", "#8e1b1b", "#2a6db5", "#d11f2a"]}}}},
  {"data": {"name": "pb"}, "transform": [{"filter": "datum.z == 0"}], "mark": {"type": "text", "color": "#ffffff", "fontSize": 7.5, "dx": 1, "dy": 1},
   "encoding": {"x": {"datum": 321.8, "type": "quantitative", "scale": {"domain": [0, 316.16], "nice": false, "zero": false}, "axis": null},
     "y": {"field": "v", "type": "quantitative", "scale": {"domain": [1.1372, 1.2382], "nice": false, "zero": false}, "axis": null},
     "text": {"field": "t"}}},
  {"data": {"name": "pb"}, "transform": [{"filter": "datum.z == 1"}], "mark": {"type": "point", "shape": "M-1,0L-0.86,-0.27L1,-0.27L1,0.27L-0.86,0.27Z", "size": 1190, "filled": true, "opacity": 1, "strokeWidth": 0},
   "encoding": {"x": {"datum": 321.8, "type": "quantitative", "scale": {"domain": [0, 316.16], "nice": false, "zero": false}, "axis": null},
     "y": {"field": "v", "type": "quantitative", "scale": {"domain": [1.1372, 1.2382], "nice": false, "zero": false}, "axis": null},
     "color": {"field": "i", "type": "nominal", "legend": null, "scale": {"domain": ["lp", "first", "botma", "sma1", "sma2", "ubb", "lbb", "sma3", "sma4"], "range": ["#000000", "#f39c12", "#8e1b1b", "#1414c8", "#3b8fe4", "#8e1b1b", "#8e1b1b", "#2a6db5", "#d11f2a"]}}}},
  {"data": {"name": "pb"}, "transform": [{"filter": "datum.z == 1"}], "mark": {"type": "text", "color": "#ffffff", "fontSize": 7.5, "dx": 1},
   "encoding": {"x": {"datum": 321.8, "type": "quantitative", "scale": {"domain": [0, 316.16], "nice": false, "zero": false}, "axis": null},
     "y": {"field": "v", "type": "quantitative", "scale": {"domain": [1.1372, 1.2382], "nice": false, "zero": false}, "axis": null},
     "text": {"field": "t"}}}
 ]
},
{
 "width": 988, "height": 85,
 "resolve": {"axis": {"y": "independent"}},
 "layer": [
  {"data": {"name": "vg"}, "mark": {"type": "rule", "color": "#a0a0a0", "strokeWidth": 1, "strokeDash": [5, 4]},
   "encoding": {"x": {"field": "b", "type": "quantitative", "scale": {"domain": [0, 316.16], "nice": false, "zero": false}, "axis": null}}},
  {"data": {"values": [{"v": 100}, {"v": 50}, {"v": 0}]}, "mark": {"type": "rule", "color": "#a0a0a0", "strokeWidth": 1, "strokeDash": [1, 2]},
   "encoding": {"y": {"field": "v", "type": "quantitative", "scale": {"domain": [-31.3, 118.3], "nice": false, "zero": false},
     "axis": {"orient": "right", "values": [-25, 0, 25, 50, 75, 100], "labelExpr": "datum.value == 0 || datum.value == 50 ? datum.label : ''", "tickSize": 4, "labelPadding": 2, "domain": true}}}},
  {"data": {"values": [{"v": 80}]}, "mark": {"type": "rule", "color": "#b86a6a", "strokeWidth": 1.5},
   "encoding": {"y": {"field": "v", "type": "quantitative", "scale": {"domain": [-31.3, 118.3], "nice": false, "zero": false}, "axis": null}}},
  {"data": {"values": [{"v": 20}]}, "mark": {"type": "rule", "color": "#3fbf3f", "strokeWidth": 1},
   "encoding": {"y": {"field": "v", "type": "quantitative", "scale": {"domain": [-31.3, 118.3], "nice": false, "zero": false}, "axis": null}}},
  {"data": {"name": "os"}, "mark": {"type": "area", "color": "#dadada"},
   "encoding": {"x": {"field": "b", "type": "quantitative", "scale": {"domain": [0, 316.16], "nice": false, "zero": false}, "axis": null},
     "y": {"field": "d", "type": "quantitative", "scale": {"domain": [-31.3, 118.3], "nice": false, "zero": false}, "axis": null},
     "y2": {"field": "ku"}}},
  {"data": {"name": "os"}, "mark": {"type": "area", "color": "#f8b597", "opacity": 0.9},
   "encoding": {"x": {"field": "b", "type": "quantitative", "scale": {"domain": [0, 316.16], "nice": false, "zero": false}, "axis": null},
     "y": {"field": "d", "type": "quantitative", "scale": {"domain": [-31.3, 118.3], "nice": false, "zero": false}, "axis": null},
     "y2": {"field": "kd"}}},
  {"data": {"name": "os"}, "mark": {"type": "line", "color": "#eea04e", "strokeWidth": 1.3},
   "encoding": {"x": {"field": "b", "type": "quantitative", "scale": {"domain": [0, 316.16], "nice": false, "zero": false}, "axis": null},
     "y": {"field": "d", "type": "quantitative", "scale": {"domain": [-31.3, 118.3], "nice": false, "zero": false}, "axis": null}}},
  {"data": {"values": [{}]}, "mark": {"type": "rule", "color": "#7f7f7f", "strokeWidth": 3},
   "encoding": {"x": {"datum": 0, "type": "quantitative", "scale": {"domain": [0, 316.16], "nice": false, "zero": false}, "axis": null},
     "x2": {"datum": 327.2},
     "y": {"datum": 117.2, "type": "quantitative", "scale": {"domain": [-31.3, 118.3], "nice": false, "zero": false}, "axis": null}}},
  {"data": {"values": [{}]}, "mark": {"type": "rule", "color": "#8a8a8a", "strokeWidth": 1},
   "encoding": {"x": {"datum": 0, "type": "quantitative", "scale": {"domain": [0, 316.16], "nice": false, "zero": false}, "axis": null},
     "x2": {"datum": 316.16},
     "y": {"datum": -30.5, "type": "quantitative", "scale": {"domain": [-31.3, 118.3], "nice": false, "zero": false}, "axis": null}}},
  {"data": {"values": [{"v": 85, "t": "90.4270"}]}, "mark": {"type": "point", "shape": "M-1,0L-0.86,-0.27L1,-0.27L1,0.27L-0.86,0.27Z", "size": 1190, "filled": true, "opacity": 1, "color": "#f08c1e", "strokeWidth": 0},
   "encoding": {"x": {"datum": 321.8, "type": "quantitative", "scale": {"domain": [0, 316.16], "nice": false, "zero": false}, "axis": null},
     "y": {"field": "v", "type": "quantitative", "scale": {"domain": [-31.3, 118.3], "nice": false, "zero": false}, "axis": null}}},
  {"data": {"values": [{"v": 85, "t": "90.4270"}]}, "mark": {"type": "text", "color": "#3a1a00", "fontSize": 7.5, "dx": 1, "dy": 1},
   "encoding": {"x": {"datum": 321.8, "type": "quantitative", "scale": {"domain": [0, 316.16], "nice": false, "zero": false}, "axis": null},
     "y": {"field": "v", "type": "quantitative", "scale": {"domain": [-31.3, 118.3], "nice": false, "zero": false}, "axis": null},
     "text": {"field": "t"}}},
  {"data": {"values": [{"v": 99, "t": "99.0265"}]}, "mark": {"type": "point", "shape": "M-1,0L-0.86,-0.27L1,-0.27L1,0.27L-0.86,0.27Z", "size": 1190, "filled": true, "opacity": 1, "fill": "#ffffff", "stroke": "#222222", "strokeWidth": 0.8},
   "encoding": {"x": {"datum": 321.8, "type": "quantitative", "scale": {"domain": [0, 316.16], "nice": false, "zero": false}, "axis": null},
     "y": {"field": "v", "type": "quantitative", "scale": {"domain": [-31.3, 118.3], "nice": false, "zero": false}, "axis": null}}},
  {"data": {"values": [{"v": 99, "t": "99.0265"}]}, "mark": {"type": "text", "color": "#111111", "fontSize": 7.5, "dx": 1},
   "encoding": {"x": {"datum": 321.8, "type": "quantitative", "scale": {"domain": [0, 316.16], "nice": false, "zero": false}, "axis": null},
     "y": {"field": "v", "type": "quantitative", "scale": {"domain": [-31.3, 118.3], "nice": false, "zero": false}, "axis": null},
     "text": {"field": "t"}}},
  {"data": {"values": [{"b": 1.8, "c": "k"}, {"b": 10.1, "c": "d"}]}, "mark": {"type": "point", "shape": "square", "size": 26, "filled": true, "opacity": 1},
   "encoding": {"x": {"field": "b", "type": "quantitative", "scale": {"domain": [0, 316.16], "nice": false, "zero": false}, "axis": null},
     "y": {"datum": -16, "type": "quantitative", "scale": {"domain": [-31.3, 118.3], "nice": false, "zero": false}, "axis": null},
     "color": {"field": "c", "type": "nominal", "legend": null, "scale": {"domain": ["k", "d"], "range": ["#eeeeee", "#f39c12"]}}}},
  {"data": {"values": [{"b": 4.2, "t": "%K"}, {"b": 11.8, "t": "%D"}]}, "mark": {"type": "text", "align": "left", "fontSize": 7},
   "encoding": {"x": {"field": "b", "type": "quantitative", "scale": {"domain": [0, 316.16], "nice": false, "zero": false}, "axis": null},
     "y": {"datum": -16, "type": "quantitative", "scale": {"domain": [-31.3, 118.3], "nice": false, "zero": false}, "axis": null},
     "text": {"field": "t"}}}
 ]
},
{
 "width": 988, "height": 32,
 "layer": [
  {"data": {"name": "dl"}, "mark": {"type": "text", "fontSize": 8},
   "encoding": {"x": {"field": "b", "type": "quantitative", "scale": {"domain": [0, 316.16], "nice": false, "zero": false}, "axis": null},
     "y": {"datum": 0, "type": "quantitative", "scale": {"domain": [-0.5, 2.5], "nice": false, "zero": false, "reverse": true}, "axis": null},
     "text": {"field": "t"}}},
  {"data": {"name": "ml"}, "mark": {"type": "text", "fontSize": 8},
   "encoding": {"x": {"field": "b", "type": "quantitative", "scale": {"domain": [0, 316.16], "nice": false, "zero": false}, "axis": null},
     "y": {"datum": 1, "type": "quantitative", "scale": {"domain": [-0.5, 2.5], "nice": false, "zero": false, "reverse": true}, "axis": null},
     "text": {"field": "t"}}},
  {"data": {"name": "ms"}, "mark": {"type": "rule", "color": "#222222", "strokeWidth": 1},
   "encoding": {"x": {"field": "b", "type": "quantitative", "scale": {"domain": [0, 316.16], "nice": false, "zero": false}, "axis": null},
     "y": {"datum": -0.5, "type": "quantitative", "scale": {"domain": [-0.5, 2.5], "nice": false, "zero": false, "reverse": true}, "axis": null},
     "y2": {"datum": 1.5}}},
  {"data": {"values": [{"b": 0.6, "t": "EURUSD Curncy (EUR-USD X-RATE) AT_EURUSD_4H 60 Days 240 Minutes"}, {"b": 168.6, "t": "Copyright© 2018 Bloomberg Finance L.P."}]}, "mark": {"type": "text", "align": "left", "fontSize": 7.6},
   "encoding": {"x": {"field": "b", "type": "quantitative", "scale": {"domain": [0, 316.16], "nice": false, "zero": false}, "axis": null},
     "y": {"datum": 1.95, "type": "quantitative", "scale": {"domain": [-0.5, 2.5], "nice": false, "zero": false, "reverse": true}, "axis": null},
     "text": {"field": "t"}}},
  {"data": {"values": [{"b": 326.7, "t": "09-Jul-2018 07:49:27"}]}, "mark": {"type": "text", "align": "right", "fontSize": 7.6},
   "encoding": {"x": {"field": "b", "type": "quantitative", "scale": {"domain": [0, 316.16], "nice": false, "zero": false}, "axis": null},
     "y": {"datum": 1.95, "type": "quantitative", "scale": {"domain": [-0.5, 2.5], "nice": false, "zero": false, "reverse": true}, "axis": null},
     "text": {"field": "t"}}}
 ]
}
]
}
